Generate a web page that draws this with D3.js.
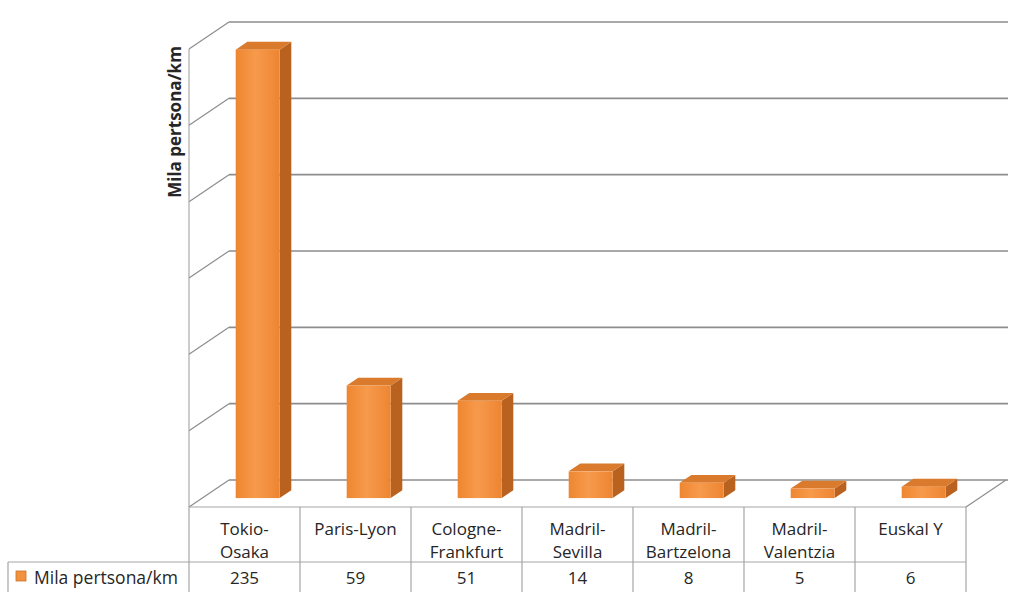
<!DOCTYPE html>
<html>
<head>
<meta charset="utf-8">
<script src="https://cdn.jsdelivr.net/npm/d3@7"></script>
<style>
  body { margin: 0; background: #fff; }
  text { font-family: "Open Sans", Lato, sans-serif; fill: #262626; }
</style>
</head>
<body>
<script>
// chart values
const categories = [['Tokio-', 'Osaka'], ['Paris-Lyon'], ['Cologne-', 'Frankfurt'], ['Madril-', 'Sevilla'], ['Madril-', 'Bartzelona'], ['Madril-', 'Valentzia'], ['Euskal Y']];
const values = [235, 59, 51, 14, 8, 5, 6];
const yTicks = [0, 40, 80, 120, 160, 200, 240];
const seriesName = 'Mila pertsona/km';

let width = 1010, height = 592;
let left = 189, right = 966, floorFront = 507, floorBack = 480;
let depthX = 40, depthY = floorFront - floorBack;

let svg = d3.select('body').append('svg')
    .attr('width', width)
    .attr('height', height);

let defs = svg.append('defs');
let grad = defs.append('linearGradient').attr('id', 'front').attr('x1', 0).attr('x2', 1);
grad.append('stop').attr('offset', '0%').attr('stop-color', '#ee8630');
grad.append('stop').attr('offset', '45%').attr('stop-color', '#f79a4c');
grad.append('stop').attr('offset', '100%').attr('stop-color', '#ed8532');

let xScale = d3.scaleBand()
    .domain(d3.range(categories.length))
    .range([left, right]);

let yScale = d3.scaleLinear()
    .domain([0, 240])
    .range([floorBack, 22]);

// gridlines on back wall + side wall
let grid = svg.append('g');
yTicks.forEach(t => {
    let y = yScale(t);
    grid.append('line')
        .attr('x1', left + depthX).attr('x2', right + depthX + 2)
        .attr('y1', y).attr('y2', y)
        .attr('stroke', '#8d8d8d').attr('stroke-width', 1.6);
    grid.append('line')
        .attr('x1', left).attr('y1', y + depthY)
        .attr('x2', left + depthX).attr('y2', y)
        .attr('stroke', '#8d8d8d').attr('stroke-width', 1.2);
});
// front vertical axis and floor edge
grid.append('line')
    .attr('x1', left).attr('x2', left)
    .attr('y1', yScale(240) + depthY).attr('y2', floorFront)
    .attr('stroke', '#9a9a9a').attr('stroke-width', 1);
grid.append('line')
    .attr('x1', right).attr('y1', floorFront)
    .attr('x2', right + depthX).attr('y2', floorBack)
    .attr('stroke', '#8d8d8d').attr('stroke-width', 1.2);

// bars
let f1 = 0.33, f2 = 0.62;
let barW = 44;
let bars = svg.append('g');
values.forEach((v, i) => {
    let x0 = xScale(i) + (xScale.bandwidth() - barW) / 2 + depthX * f1;
    let yb = floorFront - depthY * f1;
    let h = yScale(0) - yScale(v);
    let yt = yb - h;
    let dx = depthX * (f2 - f1), dy = depthY * (f2 - f1);
    // side face
    bars.append('path')
        .attr('d', `M${x0 + barW},${yt} L${x0 + barW + dx},${yt - dy} L${x0 + barW + dx},${yb - dy} L${x0 + barW},${yb} Z`)
        .attr('fill', '#b9621f');
    // top face
    bars.append('path')
        .attr('d', `M${x0},${yt} L${x0 + dx},${yt - dy} L${x0 + barW + dx},${yt - dy} L${x0 + barW},${yt} Z`)
        .attr('fill', '#d97a2c');
    // front face
    bars.append('rect')
        .attr('x', x0).attr('y', yt)
        .attr('width', barW).attr('height', h)
        .attr('fill', 'url(#front)');
});

// y axis title
svg.append('text')
    .attr('transform', `translate(181,122) rotate(-90)`)
    .attr('text-anchor', 'middle')
    .attr('font-size', 17)
    .attr('font-weight', 'bold')
    .attr('fill', '#000')
    .text(seriesName);

// data table
let rowTop = 562, legendLeft = 8;
let tbl = svg.append('g').attr('stroke', '#a6a6a6').attr('stroke-width', 1.2);
tbl.append('line').attr('x1', left).attr('x2', right).attr('y1', floorFront).attr('y2', floorFront);
tbl.append('line').attr('x1', legendLeft).attr('x2', right).attr('y1', rowTop).attr('y2', rowTop);
tbl.append('line').attr('x1', legendLeft).attr('x2', legendLeft).attr('y1', rowTop).attr('y2', height);
d3.range(categories.length + 1).forEach(i => {
    let x = i < categories.length ? xScale(i) : right;
    tbl.append('line').attr('x1', x).attr('x2', x).attr('y1', floorFront).attr('y2', height);
});

categories.forEach((c, i) => {
    let cx = xScale(i) + xScale.bandwidth() / 2;
    let t = svg.append('text')
        .attr('text-anchor', 'middle')
        .attr('font-size', 17);
    c.forEach((line, j) => {
        t.append('tspan').attr('x', cx).attr('y', 535 + j * 23).text(line);
    });
    svg.append('text')
        .attr('x', cx).attr('y', 584)
        .attr('text-anchor', 'middle')
        .attr('font-size', 17)
        .text(values[i]);
});

svg.append('rect')
    .attr('x', 16).attr('y', 571).attr('width', 10).attr('height', 10)
    .attr('fill', '#f2923f').attr('stroke', '#c8732c').attr('stroke-width', 0.8);
svg.append('text')
    .attr('x', 34).attr('y', 584)
    .attr('font-size', 17.5)
    .text(seriesName);
</script>
</body>
</html>
